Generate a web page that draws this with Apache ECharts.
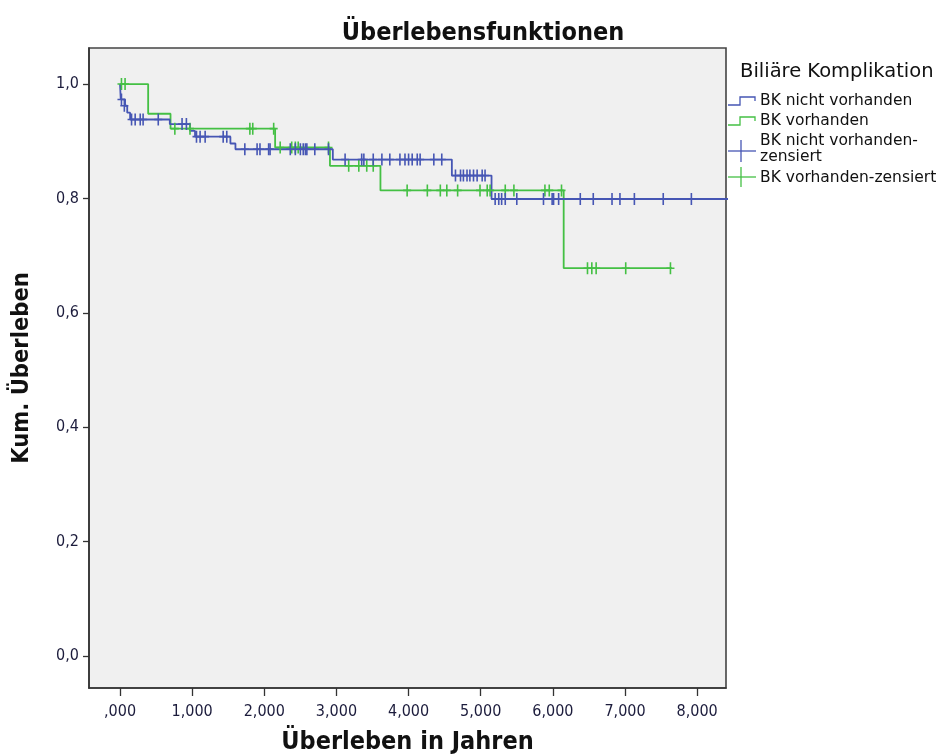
<!DOCTYPE html>
<html>
<head>
<meta charset="utf-8">
<script src="https://cdn.jsdelivr.net/npm/echarts@6/dist/echarts.min.js"></script>
<style>html,body{margin:0;padding:0;background:#fff;}#c{width:949px;height:754px;}</style>
</head>
<body>
<div id="c"></div>
<script>
// ---- tick values / labels ----
const xTickValues = [0, 1, 2, 3, 4, 5, 6, 7, 8];
const xTickLabels = [',000', '1,000', '2,000', '3,000', '4,000', '5,000', '6,000', '7,000', '8,000'];
const yTickValues = [0, 0.2, 0.4, 0.6, 0.8, 1.0];
const yTickLabels = ['0,0', '0,2', '0,4', '0,6', '0,8', '1,0'];

// ---- BK nicht vorhanden (blue): step function events ----
const blueTimes = [0, 0.01, 0.07, 0.10, 0.14, 0.69, 0.97, 1.04, 1.53, 1.60, 2.95, 4.60, 5.15, 8.60];
const blueSurv  = [1.0, 0.973, 0.962, 0.950, 0.938, 0.930, 0.918, 0.908, 0.896, 0.886, 0.868, 0.840, 0.799, 0.799];
// censored observations (blue)
const blueCensTimes = [0.02, 0.06, 0.16, 0.21, 0.28, 0.32, 0.53, 0.86, 0.92,
  1.06, 1.11, 1.18, 1.43, 1.48,
  1.73, 1.90, 1.94, 2.06, 2.08, 2.36, 2.43, 2.50, 2.54, 2.57, 2.59, 2.70, 2.89,
  3.12, 3.35, 3.38, 3.51, 3.63, 3.74, 3.88, 3.95, 4.00, 4.05, 4.12, 4.16, 4.35, 4.46,
  4.65, 4.72, 4.76, 4.81, 4.85, 4.90, 4.95, 5.02, 5.06,
  5.20, 5.25, 5.29, 5.34, 5.50, 5.87, 5.99, 6.01, 6.08, 6.38, 6.56, 6.82, 6.93, 7.13, 7.53, 7.92];
const blueCensSurv = [0.973, 0.962, 0.938, 0.938, 0.938, 0.938, 0.938, 0.930, 0.930,
  0.908, 0.908, 0.908, 0.908, 0.908,
  0.886, 0.886, 0.886, 0.886, 0.886, 0.886, 0.886, 0.886, 0.886, 0.886, 0.886, 0.886, 0.886,
  0.868, 0.868, 0.868, 0.868, 0.868, 0.868, 0.868, 0.868, 0.868, 0.868, 0.868, 0.868, 0.868, 0.868,
  0.840, 0.840, 0.840, 0.840, 0.840, 0.840, 0.840, 0.840, 0.840,
  0.799, 0.799, 0.799, 0.799, 0.799, 0.799, 0.799, 0.799, 0.799, 0.799, 0.799, 0.799, 0.799, 0.799, 0.799, 0.799];

// ---- BK vorhanden (green): step function events ----
const greenTimes = [0, 0.39, 0.70, 2.15, 2.91, 3.61, 6.15, 7.65];
const greenSurv  = [1.0, 0.948, 0.922, 0.889, 0.857, 0.814, 0.678, 0.678];
// censored observations (green)
const greenCensTimes = [0.02, 0.07, 0.76, 0.97, 1.80, 1.84, 2.13,
  2.22, 2.38, 2.43, 2.47, 2.89,
  3.17, 3.31, 3.42, 3.51,
  3.98, 4.26, 4.44, 4.53, 4.68, 4.99, 5.09, 5.13, 5.34, 5.46, 5.89, 5.95, 6.12,
  6.48, 6.54, 6.60, 7.01, 7.63];
const greenCensSurv = [1.0, 1.0, 0.922, 0.922, 0.922, 0.922, 0.922,
  0.889, 0.889, 0.889, 0.889, 0.889,
  0.857, 0.857, 0.857, 0.857,
  0.814, 0.814, 0.814, 0.814, 0.814, 0.814, 0.814, 0.814, 0.814, 0.814, 0.814, 0.814, 0.814,
  0.678, 0.678, 0.678, 0.678, 0.678];

const seriesNames = ['BK nicht vorhanden', 'BK vorhanden', 'BK nicht vorhanden-\nzensiert', 'BK vorhanden-zensiert'];

const BLUE = '#4656b4';
const GREEN = '#44c044';
const CROSS = 'path://M3.2,0 h1.6 v5.2 h3.2 v1.6 h-3.2 v5.2 h-1.6 v-5.2 h-3.2 v-1.6 h3.2 z';

const zip = (a, b) => a.map((v, i) => [v, b[i]]);

const chart = echarts.init(document.getElementById('c'), null, {renderer: 'canvas'});

const txt = '#111';
const legX = 728, legTextX = 760;
const legFont = '15.5px "DejaVu Sans"';

chart.setOption({
  animation: false,
  backgroundColor: '#ffffff',
  title: {
    text: 'Überlebensfunktionen',
    left: 478, top: 16, textAlign: 'center',
    textStyle: {fontFamily: 'DejaVu Sans Condensed', fontWeight: 'bold', fontSize: 25, color: txt}
  },
  grid: {
    left: 89, right: 223, top: 48, bottom: 66,
    outerBoundsMode: 'none', containLabel: false,
    show: true, backgroundColor: '#f0f0f0', borderColor: '#444', borderWidth: 1.6
  },
  xAxis: {
    type: 'value', min: -0.43, max: 8.4,
    name: 'Überleben in Jahren', nameLocation: 'middle', nameGap: 42,
    nameTextStyle: {fontFamily: 'DejaVu Sans Condensed', fontWeight: 'bold', fontSize: 25, color: txt},
    axisLine: {show: true, onZero: false, lineStyle: {color: '#333', width: 1.6}},
    axisTick: {show: true, length: 8, customValues: xTickValues, lineStyle: {color: '#333', width: 1.3}},
    axisLabel: {customValues: xTickValues, margin: 16, fontFamily: 'DejaVu Sans Condensed', fontSize: 16, color: '#1c1c3c',
      formatter: v => xTickLabels[xTickValues.indexOf(v)]},
    splitLine: {show: false}
  },
  yAxis: {
    type: 'value', min: -0.056, max: 1.063,
    name: 'Kum. Überleben', nameLocation: 'middle', nameGap: 55,
    nameTextStyle: {fontFamily: 'DejaVu Sans Condensed', fontWeight: 'bold', fontSize: 23.5, color: txt},
    axisLine: {show: true, onZero: false, lineStyle: {color: '#333', width: 1.6}},
    axisTick: {show: true, length: 6, customValues: yTickValues, lineStyle: {color: '#333', width: 1.3}},
    axisLabel: {customValues: yTickValues, margin: 10, fontFamily: 'DejaVu Sans Condensed', fontSize: 16, color: '#1c1c3c',
      formatter: v => yTickLabels[yTickValues.indexOf(v)]},
    splitLine: {show: false}
  },
  series: [
    {name: seriesNames[1], type: 'line', step: 'end', showSymbol: false, data: zip(greenTimes, greenSurv),
     lineStyle: {color: GREEN, width: 1.8}, itemStyle: {color: GREEN}, z: 2, clip: true},
    {name: seriesNames[0], type: 'line', step: 'end', showSymbol: false, data: zip(blueTimes, blueSurv),
     lineStyle: {color: BLUE, width: 1.8}, itemStyle: {color: BLUE}, z: 3, clip: true},
    {name: seriesNames[3], type: 'scatter', symbol: CROSS, symbolSize: [8, 12], data: zip(greenCensTimes, greenCensSurv),
     itemStyle: {color: GREEN, opacity: 1}, z: 4},
    {name: seriesNames[2], type: 'scatter', symbol: CROSS, symbolSize: [8, 12], data: zip(blueCensTimes, blueCensSurv),
     itemStyle: {color: BLUE, opacity: 1}, z: 5}
  ],
  graphic: [
    {type: 'text', x: 740, y: 72, style: {text: 'Biliäre Komplikation', font: '19.5px "DejaVu Sans"', fill: txt, textVerticalAlign: 'middle'}},
    {type: 'polyline', shape: {points: [[legX, 105], [740, 105], [740, 97], [755, 97], [755, 101]]}, style: {stroke: BLUE, lineWidth: 1.3, fill: null}},
    {type: 'text', x: legTextX, y: 101, style: {text: seriesNames[0], font: legFont, fill: txt, textVerticalAlign: 'middle'}},
    {type: 'polyline', shape: {points: [[legX, 125], [740, 125], [740, 117], [755, 117], [755, 121]]}, style: {stroke: GREEN, lineWidth: 1.3, fill: null}},
    {type: 'text', x: legTextX, y: 121, style: {text: seriesNames[1], font: legFont, fill: txt, textVerticalAlign: 'middle'}},
    {type: 'line', shape: {x1: legX, y1: 151, x2: 756, y2: 151}, style: {stroke: BLUE, lineWidth: 1.3}},
    {type: 'line', shape: {x1: 741, y1: 140, x2: 741, y2: 162}, style: {stroke: BLUE, lineWidth: 1.3}},
    {type: 'text', x: legTextX, y: 149, style: {text: seriesNames[2], font: legFont, fill: txt, lineHeight: 16, textVerticalAlign: 'middle'}},
    {type: 'line', shape: {x1: legX, y1: 177, x2: 756, y2: 177}, style: {stroke: GREEN, lineWidth: 1.3}},
    {type: 'line', shape: {x1: 741, y1: 167, x2: 741, y2: 187}, style: {stroke: GREEN, lineWidth: 1.3}},
    {type: 'text', x: legTextX, y: 178, style: {text: seriesNames[3], font: legFont, fill: txt, textVerticalAlign: 'middle'}}
  ]
});
</script>
</body>
</html>
